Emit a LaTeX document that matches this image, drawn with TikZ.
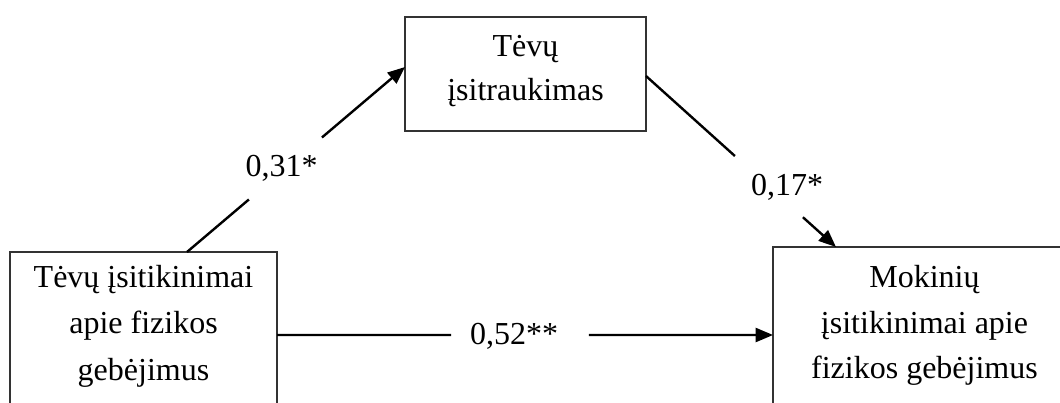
\documentclass[tikz,border=0pt]{standalone}
\usepackage{fontspec}
\setmainfont{Liberation Serif}
\usetikzlibrary{arrows.meta,calc}
\begin{document}
\begin{tikzpicture}[x=0.75pt,y=-0.75pt,
  box/.style={draw=black!80, line width=1.1pt, rectangle, inner sep=0pt},
  boxtext/.style={inner sep=0pt, align=center, anchor=north,
    font=\fontsize{24}{#1}\selectfont},
  link/.style={line width=1.8pt, black},
  tip/.style={-{Triangle[length=13pt,width=10.5pt]}},
  coef/.style={inner sep=0pt, anchor=base, font=\fontsize{24}{28}\selectfont}]

\useasboundingbox (0,0) rectangle (1060,403);
\fill[white] (0,0) rectangle (1060,403);
\clip (0,0) rectangle (1060,403);

% boxes (the two lower ones run past the bottom/right edge)
\node[box, minimum width=200.25pt, minimum height=133.5pt] (L) at (143.5,341) {};
\node[box, minimum width=180.75pt, minimum height=85.5pt] (T) at (525.5,74) {};
\node[box, minimum width=227.25pt, minimum height=137.25pt] (R) at (924.5,338.5) {};

% box texts
\node[boxtext=35] (Lt) at (143.5,254.3) {\strut Tėvų įsitikinimai\\ apie fizikos\\ gebėjimus};
\node[boxtext=32.5] (Tt) at (525.5,26.4) {\strut Tėvų\\ įsitraukimas};
\node[boxtext=34.3] (Rt) at (924.5,255) {\strut Mokinių\\ įsitikinimai apie\\ fizikos gebėjimus};

% connector end points on the box borders
\coordinate (L1) at (187,252);
\coordinate (T1) at (405,67);
\coordinate (T2) at (646,76);
\coordinate (R2) at (836,247);
\coordinate (L3) at (277,335);
\coordinate (R3) at (773,335);

% Tevu isitikinimai -> Tevu isitraukimas
\draw[link] (L1) -- ($(L1)!0.284!(T1)$);
\draw[link,tip] ($(L1)!0.619!(T1)$) -- (T1);
\node[coef] (c1) at (281.7,176.7) {0,31*};

% Tevu isitraukimas -> Mokiniu isitikinimai
\draw[link] (T2) -- ($(T2)!0.468!(R2)$);
\draw[link,tip] ($(T2)!0.826!(R2)$) -- (R2);
\node[coef] (c2) at (787,195) {0,17*};

% direct path
\draw[link] (L3) -- ($(L3)!0.351!(R3)$);
\draw[link,tip] ($(L3)!0.629!(R3)$) -- (R3);
\node[coef] (c3) at (514,344) {0,52**};

\end{tikzpicture}
\end{document}
